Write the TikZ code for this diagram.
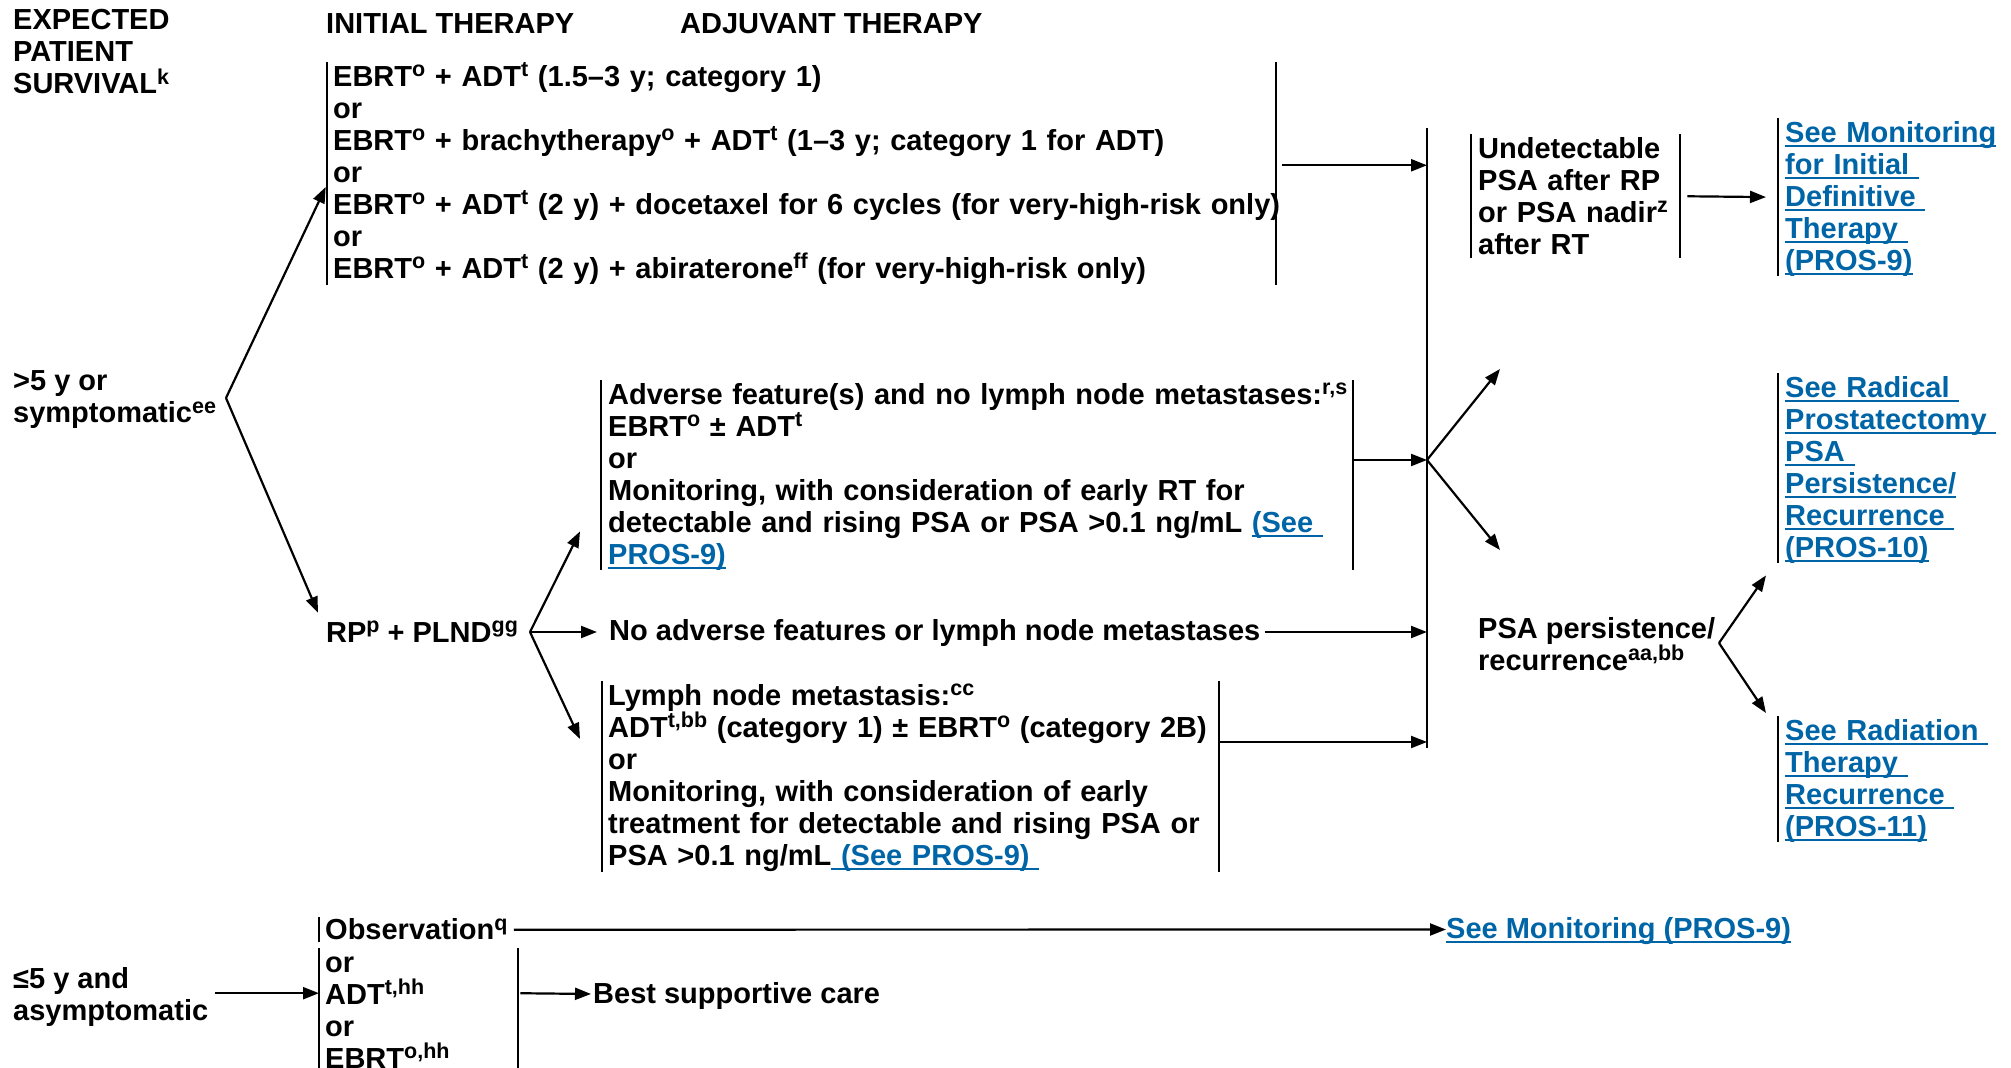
\documentclass[tikz,border=0pt]{standalone}
\usepackage{fontspec}
\setmainfont{Liberation Sans}
\usetikzlibrary{arrows.meta,calc}
\definecolor{linkblue}{RGB}{0,101,167}
\newcommand\vs{\rule[-4pt]{0pt}{28pt}}
\newcommand\lk[1]{{\color{linkblue}\setbox0\hbox{#1}\rlap{\rule[-4.5pt]{\wd0}{2.2pt}}\box0}}
\newcommand\li[1]{\mbox{\vs#1}}
\newcommand\su[1]{\raisebox{9.5pt}{\fontsize{21.5pt}{21.5pt}\selectfont #1}}
\tikzset{
  every node/.style={font=\fontsize{29pt}{32pt}\selectfont\bfseries, inner sep=0pt, align=left},
  box/.style={anchor=north west, inner ysep=0pt, align=left},
  bar/.style={line width=2pt},
  arr/.style={line width=2.2pt, -{Triangle[length=16pt,width=12pt]}},
}
\begin{document}
\begin{tikzpicture}[x=1pt,y=-1pt]
\useasboundingbox (0,0) rectangle (2011,1068);
% headers
\node[anchor=west] (surv) at (13,51.5) {\li{EXPECTED}\\\li{PATIENT}\\\li{SURVIVAL\su{k}}};
\node[anchor=west] (hdrI) at (326,23) {\li{INITIAL THERAPY}};
\node[anchor=west] (hdrA) at (680,23) {\li{ADJUVANT THERAPY}};
% left conditions
\node[anchor=west] (gt5) at (13,398) {\li{>5 y or}\\\li{symptomatic\su{ee}}};
\node[anchor=west] (le5) at (13,995) {\li{≤5 y and}\\\li{asymptomatic}};
% initial therapy box
\node[box, inner xsep=6pt, text width=937pt] (top) at (327,62) {%
\li{EBRT\su{o} + ADT\su{t} (1.5–3 y; category 1)}\\
\li{or}\\
\li{EBRT\su{o} + brachytherapy\su{o} + ADT\su{t} (1–3 y; category 1 for ADT)}\\
\li{or}\\
\li{EBRT\su{o} + ADT\su{t} (2 y) + docetaxel for 6 cycles (for very-high-risk only)}\\
\li{or}\\
\li{EBRT\su{o} + ADT\su{t} (2 y) + abiraterone\su{ff} (for very-high-risk only)}};
% RP
\node[anchor=west] (rp) at (326,632) {\li{RP\su{p} + PLND\su{gg}}};
\node[box, inner xsep=7pt, text width=738pt] (adv) at (601,380) {%
\li{Adverse feature(s) and no lymph node metastases:\su{r,s}}\\
\li{EBRT\su{o} ± ADT\su{t}}\\
\li{or}\\
\li{Monitoring, with consideration of early RT for}\\
\li{detectable and rising PSA or PSA >0.1 ng/mL \lk{(See }}\\
\li{\lk{PROS-9)}}};
\node[anchor=west] (noadv) at (609,632) {\li{No adverse features or lymph node metastases}};
\node[box, inner xsep=6pt, text width=605pt] (lymph) at (602,681) {%
\li{Lymph node metastasis:\su{cc}}\\
\li{ADT\su{t,bb} (category 1) ± EBRT\su{o} (category 2B)}\\
\li{or}\\
\li{Monitoring, with consideration of early}\\
\li{treatment for detectable and rising PSA or}\\
\li{PSA >0.1 ng/mL\lk{ (See PROS-9) }}};
% right column
\node[box, inner xsep=7pt, text width=195pt] (undet) at (1471,134) {%
\li{Undetectable}\\\li{PSA after RP}\\\li{or PSA nadir\su{z}}\\\li{after RT}};
\node[box, inner xsep=7pt, text width=220pt] (link1) at (1778,118) {%
\li{\lk{See Monitoring}}\\\li{\lk{for Initial }}\\\li{\lk{Definitive }}\\\li{\lk{Therapy }}\\\li{\lk{(PROS-9)}}};
\node[box, inner xsep=7pt, text width=220pt] (link2) at (1778,373) {%
\li{\lk{See Radical }}\\\li{\lk{Prostatectomy }}\\\li{\lk{PSA }}\\\li{\lk{Persistence/}}\\\li{\lk{Recurrence }}\\\li{\lk{(PROS-10)}}};
\node[box, inner xsep=7pt, text width=220pt] (link3) at (1778,716) {%
\li{\lk{See Radiation }}\\\li{\lk{Therapy }}\\\li{\lk{Recurrence }}\\\li{\lk{(PROS-11)}}};
\node[anchor=west] (psa) at (1478,644) {\li{PSA persistence/}\\\li{recurrence\su{aa,bb}}};
% bottom
\node[box, inner xsep=6pt] (obs) at (319,915.5) {\li{Observation\su{q}}};
\node[box, inner xsep=6pt, text width=187pt] (opts) at (319,948) {%
\li{or}\\\li{ADT\su{t,hh}}\\\li{or}\\\li{EBRT\su{o,hh}}};
\node[anchor=west] (bsc) at (593,994) {\li{Best supportive care}};
\node[anchor=west] (mon) at (1446,929.5) {\li{\lk{See Monitoring (PROS-9)}}};
% bars
\foreach \n in {top,adv,lymph,undet,opts}{
  \draw[bar] (\n.north west) -- (\n.south west);
  \draw[bar] (\n.north east) -- (\n.south east);
}
\foreach \n in {link1,link2,link3}{
  \draw[bar] (\n.north west) -- (\n.south west);
}
\draw[bar, shorten <=1.5pt, shorten >=1.5pt] (obs.north west) -- (obs.south west);
% collector line
\coordinate (coltop) at (1427,128);
\coordinate (colbot) at (1427,748);
\draw[bar] (coltop) -- (colbot);
% branch points
\coordinate (br1) at (226,398);
\coordinate (brRP) at (530,632);
\coordinate (brPSA) at (1719,643);
\coordinate (advout) at ($(adv.north east)!0.42!(adv.south east)$);
\coordinate (lymout) at ($(lymph.north east)!0.32!(lymph.south east)$);
\coordinate (brCol) at (coltop |- advout);
\coordinate (tipUp1) at (1500,369);
\coordinate (tipDn1) at (1500,550);
% left arrows
\draw[arr, shorten >=3pt] (br1) -- ([yshift=-11pt]top.west);
\draw[arr] (br1) -- ([xshift=-8pt,yshift=5pt]rp.north west);
\draw[arr] (brRP) -- ([xshift=-21pt,yshift=39pt]adv.south west);
\draw[arr, shorten >=12pt] (brRP) -- (noadv.west);
\draw[arr] (brRP) -- ([xshift=-22pt,yshift=-58pt]lymph.north west);
% into collector
\draw[arr, shorten <=6pt] ([yshift=8pt]top.east) -- ([yshift=8pt]top.east -| coltop);
\draw[arr] (advout) -- (advout -| coltop);
\draw[arr, shorten <=4pt] (noadv.east) -- (noadv.east -| coltop);
\draw[arr] (lymout) -- (lymout -| coltop);
% out of collector
\draw[arr] (brCol) -- (tipUp1);
\draw[arr] (brCol) -- (tipDn1);
\draw[arr, shorten <=7pt, shorten >=12pt] (undet.east) -- (link1.west);
\draw[arr] (brPSA) -- ([xshift=-12pt,yshift=-12pt]link2.south west);
\draw[arr] (brPSA) -- ([xshift=-12pt,yshift=3pt]link3.north west);
% bottom arrows
\coordinate (optsin) at ([yshift=17pt]opts.west);
\draw[arr, shorten <=7pt] (le5.east |- optsin) -- (optsin);
\draw[arr, shorten <=2pt, shorten >=2pt] ([yshift=17pt]opts.east) -- (bsc.west);
\draw[arr] (obs.east) -- (mon.west);
\end{tikzpicture}
\end{document}
